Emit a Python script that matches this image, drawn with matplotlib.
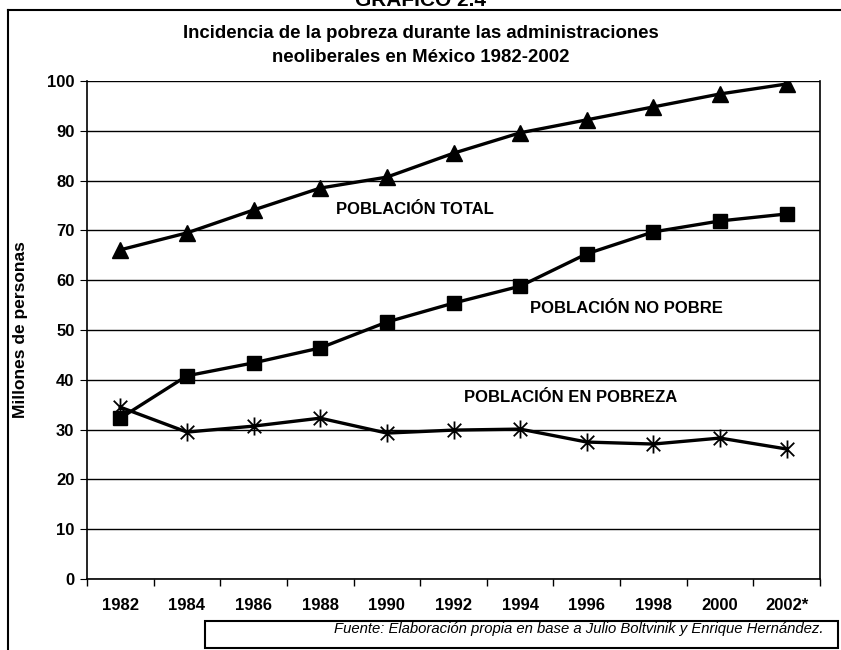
import matplotlib
matplotlib.use("Agg")

import matplotlib.pyplot as plt
from matplotlib.path import Path
from matplotlib.patches import Rectangle

plt.rcParams["font.family"] = ["Liberation Sans", "DejaVu Sans"]

anios = ["1982", "1984", "1986", "1988", "1990", "1992", "1994", "1996", "1998", "2000", "2002*"]
poblacion_total = [66.1, 69.5, 74.1, 78.5, 80.7, 85.5, 89.6, 92.2, 94.8, 97.4, 99.4]
poblacion_no_pobre = [32.3, 40.8, 43.4, 46.4, 51.6, 55.4, 58.8, 65.3, 69.7, 71.9, 73.3]
poblacion_pobreza = [34.5, 29.5, 30.7, 32.3, 29.3, 29.9, 30.1, 27.5, 27.1, 28.3, 26.1]

# asterisco tipo Excel: X con linea vertical
estrella = Path(
    [(0, -1), (0, 1), (-0.75, -0.75), (0.75, 0.75), (-0.75, 0.75), (0.75, -0.75)],
    [Path.MOVETO, Path.LINETO, Path.MOVETO, Path.LINETO, Path.MOVETO, Path.LINETO],
)

fig = plt.figure(figsize=(8.41, 6.5), dpi=100)
W, H = 841, 650
ax = fig.add_axes([87 / W, 1 - 579 / H, (820 - 87) / W, (579 - 81) / H])

x = list(range(len(anios)))
ax.plot(x, poblacion_total, color="black", lw=2.4, marker="^", ms=11, zorder=3)
ax.plot(x, poblacion_no_pobre, color="black", lw=2.4, marker="s", ms=10.5, zorder=3)
ax.plot(x, poblacion_pobreza, color="black", lw=2.4, marker=estrella, ms=13,
        markeredgewidth=1.3, zorder=3)

ax.set_xlim(-0.5, len(anios) - 0.5)
ax.set_ylim(0, 100)
ax.set_yticks(range(0, 101, 10))
ax.yaxis.grid(True, color="black", lw=1.0)
ax.set_axisbelow(True)

ax.set_xticks(x)
ax.set_xticklabels(anios)
ax.set_xticks([i - 0.5 for i in range(len(anios) + 1)], minor=True)
ax.tick_params(axis="x", which="major", length=0, pad=14, labelsize=12)
ax.tick_params(axis="x", which="minor", length=5, direction="out", width=1)
ax.tick_params(axis="y", length=5, direction="out", labelsize=12, pad=4)
for lab in ax.get_xticklabels() + ax.get_yticklabels():
    lab.set_fontweight("bold")

for s in ax.spines.values():
    s.set_linewidth(1.2)
    s.set_color("black")
ax.spines["top"].set_visible(False)

ax.set_ylabel("Millones de personas", fontsize=12.5, fontweight="bold", labelpad=14)

ax.text(4.42, 74.1, "POBLACIÓN TOTAL", fontsize=12, fontweight="bold", ha="center", va="center")
ax.text(7.59, 54.4, "POBLACIÓN NO POBRE", fontsize=12, fontweight="bold", ha="center", va="center")
ax.text(6.76, 36.5, "POBLACIÓN EN POBREZA", fontsize=12, fontweight="bold", ha="center", va="center")

fig.text(0.5, 1 - 33 / H, "Incidencia de la pobreza durante las administraciones",
         fontsize=13.4, fontweight="bold", ha="center", va="center")
fig.text(0.5, 1 - 57 / H, "neoliberales en México 1982-2002",
         fontsize=13.4, fontweight="bold", ha="center", va="center")
fig.text(0.5, 1 - 0 / H, "GRÁFICO 2.4", fontsize=15, fontweight="bold", ha="center", va="center")

# marco exterior
fig.add_artist(plt.Line2D([8 / W, 841 / W], [1 - 10 / H, 1 - 10 / H], color="black", lw=1.5))
fig.add_artist(plt.Line2D([8 / W, 8 / W], [1 - 10 / H, 0], color="black", lw=1.5))

# recuadro de fuente
fig.add_artist(Rectangle((205 / W, 1 - 648 / H), (838 - 205) / W, 27 / H,
                         transform=fig.transFigure, fill=False, ec="black", lw=1.5))
fig.text(823 / W, 1 - 629 / H, "Fuente: Elaboración propia en base a Julio Boltvinik y Enrique Hernández.",
         fontsize=10.7, style="italic", ha="right", va="center")

fig.savefig("out.png", dpi=100)
